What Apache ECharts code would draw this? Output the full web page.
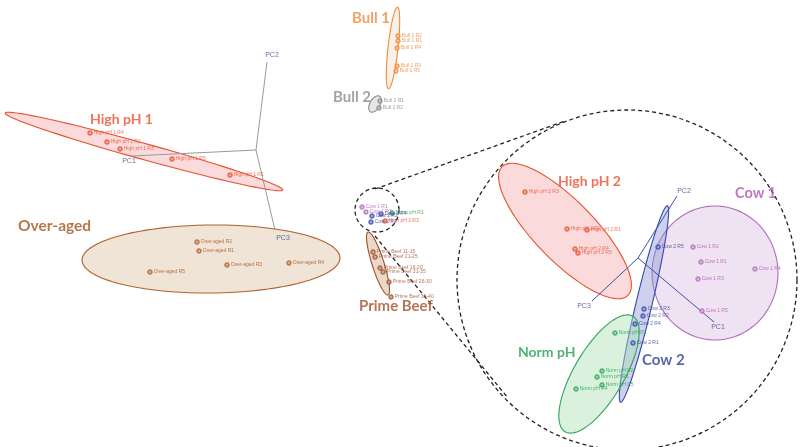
<!DOCTYPE html>
<html>
<head>
<meta charset="utf-8">
<script src="https://cdn.jsdelivr.net/npm/echarts@6/dist/echarts.min.js"></script>
<style>
html, body { margin: 0; padding: 0; background: #fff; }
#chart { width: 800px; height: 447px; }
</style>
</head>
<body>
<div id="chart"></div>
<script>
// sample groups
var groups = ['High pH 1', 'Over-aged', 'Bull 1', 'Bull 2', 'Prime Beef', 'High pH 2', 'Cow 1', 'Cow 2', 'Norm pH'];

// confidence ellipses: [cx, cy, semi-major, semi-minor, angle deg, group]
var ellipses = [
    [144, 151.5, 144, 8, 15.5, 0],
    [211, 259, 129, 34, -0.5, 1],
    [393, 48, 41, 5, 96.3, 2],
    [375, 104, 9, 5, -60, 3],
    [378, 263.5, 33, 6, 72.4, 4],
    [565, 231, 90, 30, 45.7, 5],
    [715, 273, 63, 67, 0, 6],
    [644, 304, 101, 8, 103.4, 7],
    [599, 374, 67, 25, 120.4, 8]
];

// samples: [x, y, label, group]
var samples = [
    [90, 133, 'High pH 1 R4', 0],
    [107, 142, 'High pH 1 R2', 0],
    [120, 149, 'High pH 1 R3', 0],
    [172, 159, 'High pH 1 R5', 0],
    [230, 175, 'High pH 1 R1', 0],
    [197, 242, 'Over-aged R2', 1],
    [199, 251, 'Over-aged R1', 1],
    [227, 265, 'Over-aged R3', 1],
    [289, 263, 'Over-aged R4', 1],
    [150, 272, 'Over-aged R5', 1],
    [398, 36, 'Bull 1 R2', 2],
    [398, 41, 'Bull 1 R1', 2],
    [397, 48, 'Bull 1 R4', 2],
    [397, 66, 'Bull 1 R3', 2],
    [396, 71, 'Bull 1 R5', 2],
    [380, 101, 'Bull 2 R1', 3],
    [379, 108, 'Bull 2 R2', 3],
    [373, 252, 'Prime Beef 11-15', 4],
    [375, 257, 'Prime Beef 21-25', 4],
    [380, 268, 'Prime Beef 16-20', 4],
    [383, 272, 'Prime Beef 31-35', 4],
    [389, 282, 'Prime Beef 26-30', 4],
    [391, 297, 'Prime Beef 36-40', 4],
    [362, 207, 'Cow 1 R1', 6],
    [366, 212, 'Cow 1 R3', 6],
    [372, 216, 'Cow 2 R2', 7],
    [381, 214, 'Cow 2 R4', 7],
    [392, 213, 'Norm pH R1', 8],
    [371, 222, 'Cow 2 R1', 7],
    [385, 221, 'High pH 2 R3', 5],
    [525, 192, 'High pH 2 R3', 5],
    [567, 229, 'High pH 2 R2', 5],
    [587, 230, 'High pH 2 R1', 5],
    [575, 249, 'High pH 2 R4', 5],
    [578, 253, 'High pH 2 R5', 5],
    [693, 247, 'Cow 1 R2', 6],
    [701, 262, 'Cow 1 R1', 6],
    [755, 269, 'Cow 1 R4', 6],
    [698, 279, 'Cow 1 R3', 6],
    [702, 311, 'Cow 1 R5', 6],
    [658, 247, 'Cow 2 R5', 7],
    [644, 309, 'Cow 2 R3', 7],
    [643, 316, 'Cow 2 R2', 7],
    [635, 324, 'Cow 2 R4', 7],
    [633, 343, 'Cow 2 R1', 7],
    [615, 333, 'Norm pH R1', 8],
    [602, 371, 'Norm pH R2', 8],
    [597, 377, 'Norm pH R3', 8],
    [602, 385, 'Norm pH R5', 8],
    [576, 389, 'Norm pH R4', 8]
];

// group titles: [x, y, group]
var titles = [
    [90, 119, 0],
    [18, 226, 1],
    [352, 18, 2],
    [333, 97, 3],
    [359, 306, 4],
    [558, 181, 5],
    [735, 193, 6],
    [642, 360, 7],
    [518, 352, 8]
];

// PCA loading axes: [x1, y1, x2, y2, inset]
var pcaAxes = [
    [256, 150, 267, 62, 0],
    [256, 150, 132, 156, 0],
    [256, 150, 275, 230, 0],
    [638, 258, 677, 196, 1],
    [638, 258, 714, 322, 1],
    [638, 258, 592, 301, 1]
];
// PCA axis names: [x, y, text]
var pcaNames = [
    [272, 55, 'PC2'],
    [129, 161, 'PC1'],
    [283, 238, 'PC3'],
    [684, 191, 'PC2'],
    [718, 327, 'PC1'],
    [584, 306, 'PC3']
];

// magnifier: circles [cx, cy, r] and connectors [x1, y1, x2, y2]
var zoomCircles = [[377, 210, 22], [627, 280, 170]];
var zoomLinks = [[375, 189, 565, 121], [375, 236, 508, 398]];

var palette = {
    'High pH 1': { line: '#e8502f', fill: 'rgba(240,140,140,0.32)', text: '#e8502f', size: 14 },
    'Over-aged': { line: '#b0602c', fill: 'rgba(226,206,180,0.55)', text: '#a8521f', size: 15.5 },
    'Bull 1': { line: '#ef8a3a', fill: 'rgba(245,210,180,0.3)', text: '#f0883a', size: 15 },
    'Bull 2': { line: '#8a8a8a', fill: 'rgba(200,200,200,0.45)', text: '#8a8a8a', size: 15 },
    'Prime Beef': { line: '#a0522d', fill: 'rgba(210,180,150,0.5)', text: '#a0522d', size: 15 },
    'High pH 2': { line: '#e8502f', fill: 'rgba(240,140,140,0.32)', text: '#e8502f', size: 14 },
    'Cow 1': { line: '#b070b8', fill: 'rgba(220,190,226,0.45)', text: '#b455b4', size: 14.5 },
    'Cow 2': { line: '#3848a8', fill: 'rgba(135,145,215,0.42)', text: '#2e3e98', size: 15 },
    'Norm pH': { line: '#2ea55a', fill: 'rgba(170,225,180,0.45)', text: '#22a052', size: 14 }
};

function renderEllipse(params, api) {
    var cx = api.value(0), cy = api.value(1), a = api.value(2), b = api.value(3);
    var th = api.value(4) * Math.PI / 180;
    var c = palette[groups[api.value(5)]];
    var pts = [];
    for (var i = 0; i < 90; i++) {
        var t = i / 90 * Math.PI * 2;
        var x = cx + a * Math.cos(t) * Math.cos(th) - b * Math.sin(t) * Math.sin(th);
        var y = cy + a * Math.cos(t) * Math.sin(th) + b * Math.sin(t) * Math.cos(th);
        pts.push(api.coord([x, y]));
    }
    return {
        type: 'polygon',
        shape: { points: pts },
        style: { fill: c.fill, stroke: c.line, lineWidth: 1.1 }
    };
}

function renderSegment(params, api) {
    var p1 = api.coord([api.value(0), api.value(1)]);
    var p2 = api.coord([api.value(2), api.value(3)]);
    return {
        type: 'line',
        shape: { x1: p1[0], y1: p1[1], x2: p2[0], y2: p2[1] },
        style: { stroke: api.value(4) ? '#4150a8' : '#9a9a9a', lineWidth: 1 }
    };
}

function renderCircle(params, api) {
    var c = api.coord([api.value(0), api.value(1)]);
    var r = api.size([api.value(2), 0])[0];
    return {
        type: 'circle',
        shape: { cx: c[0], cy: c[1], r: r },
        style: { fill: null, stroke: '#222', lineWidth: 1.3, lineDash: [4, 3] }
    };
}

function renderLink(params, api) {
    var p1 = api.coord([api.value(0), api.value(1)]);
    var p2 = api.coord([api.value(2), api.value(3)]);
    return {
        type: 'line',
        shape: { x1: p1[0], y1: p1[1], x2: p2[0], y2: p2[1] },
        style: { stroke: '#222', lineWidth: 1.3, lineDash: [4, 3] }
    };
}

var sampleData = samples.map(function (s) {
    var c = palette[groups[s[3]]];
    return {
        value: s,
        itemStyle: { color: c.line },
        label: { color: c.text }
    };
});

var titleData = titles.map(function (t) {
    var c = palette[groups[t[2]]];
    return {
        value: [t[0], t[1], groups[t[2]]],
        label: { color: c.text, fontSize: c.size }
    };
});

var myChart = echarts.init(document.getElementById('chart'));

var option = {
    animation: false,
    backgroundColor: '#fff',
    grid: { left: 0, right: 0, top: 0, bottom: 0 },
    xAxis: { type: 'value', min: 0, max: 800, show: false },
    yAxis: { type: 'value', min: 0, max: 447, inverse: true, show: false },
    series: [
        {
            type: 'custom',
            renderItem: renderLink,
            data: zoomLinks,
            encode: { x: [0, 2], y: [1, 3] },
            z: 1
        },
        {
            type: 'custom',
            renderItem: renderCircle,
            data: zoomCircles,
            encode: { x: 0, y: 1 },
            z: 1
        },
        {
            type: 'custom',
            renderItem: renderEllipse,
            data: ellipses,
            encode: { x: 0, y: 1 },
            z: 2
        },
        {
            type: 'custom',
            renderItem: renderSegment,
            data: pcaAxes,
            encode: { x: [0, 2], y: [1, 3] },
            z: 3
        },
        {
            type: 'scatter',
            data: pcaNames,
            symbolSize: 0,
            z: 4,
            label: {
                show: true,
                position: 'inside',
                formatter: function (p) { return p.value[2]; },
                color: '#3a4894',
                fontSize: 7,
                fontFamily: 'Liberation Sans'
            }
        },
        {
            type: 'scatter',
            data: sampleData,
            symbol: 'emptyCircle',
            symbolSize: 3.5,
            z: 5,
            itemStyle: { borderWidth: 0.6 },
            label: {
                show: true,
                position: 'right',
                distance: 1,
                formatter: function (p) { return p.value[2]; },
                fontSize: 5,
                fontFamily: 'Liberation Sans'
            }
        },
        {
            type: 'scatter',
            data: titleData,
            symbolSize: 0,
            z: 6,
            label: {
                show: true,
                position: 'right',
                distance: 0,
                formatter: function (p) { return p.value[2]; },
                fontWeight: 'bold',
                fontFamily: 'Lato'
            }
        }
    ]
};

myChart.setOption(option);
</script>
</body>
</html>
